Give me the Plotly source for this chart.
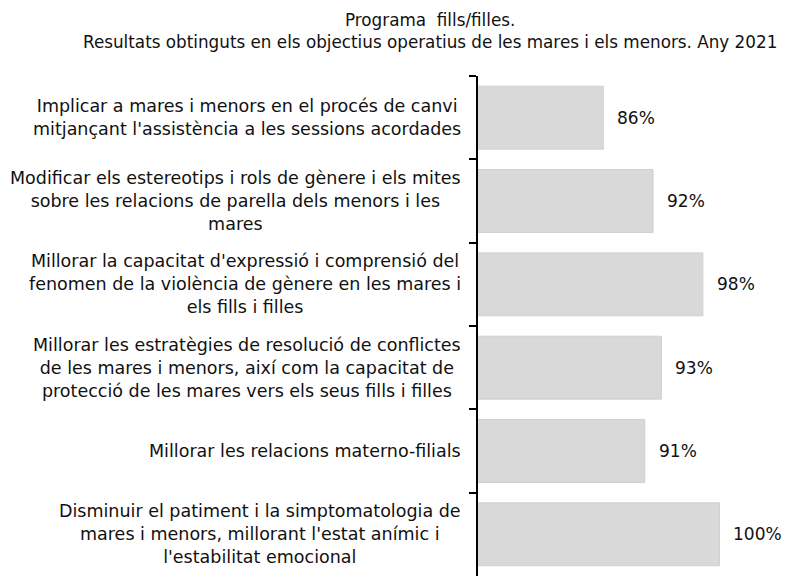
import plotly.graph_objects as go

title_lines = [
    "Programa  fills/filles.",
    "Resultats obtinguts en els objectius operatius de les mares i els menors. Any 2021",
]

objectives = [
    "Implicar a mares i menors en el procés de canvi<br>mitjançant l'assistència a les sessions acordades",
    "Modificar els estereotips i rols de gènere i els mites<br>sobre les relacions de parella dels menors i les<br>mares",
    "Millorar la capacitat d'expressió i comprensió del<br>fenomen de la violència de gènere en les mares i<br>els fills i filles",
    "Millorar les estratègies de resolució de conflictes<br>de les mares i menors, així com la capacitat de<br>protecció de les mares vers els seus fills i filles",
    "Millorar les relacions materno-filials",
    "Disminuir el patiment i la simptomatologia de<br>mares i menors, millorant l'estat anímic i<br>l'estabilitat emocional",
]

percent = [86, 92, 98, 93, 91, 100]

FONT = "DejaVu Sans, Arial, sans-serif"
TXT = "#111111"

fig = go.Figure()
fig.add_trace(go.Bar(
    x=percent,
    y=objectives,
    orientation="h",
    marker=dict(color="#d9d9d9", line=dict(color="#cfcfcf", width=1)),
    hoverinfo="x+y",
    showlegend=False,
))

annotations = []
for lab in objectives:
    annotations.append(dict(
        xref="paper", x=0, xanchor="right", xshift=-15,
        yref="y", y=lab, yanchor="middle",
        text=lab, align="center", showarrow=False,
        font=dict(family=FONT, size=17.5, color=TXT),
    ))
for lab, v in zip(objectives, percent):
    annotations.append(dict(
        xref="x", x=v, xanchor="left", xshift=12,
        yref="y", y=lab, yanchor="middle",
        text=f"{v}%", showarrow=False,
        font=dict(family=FONT, size=17, color=TXT),
    ))
annotations.append(dict(
    xref="paper", x=0, xshift=-48, xanchor="center",
    yref="paper", y=1, yshift=45, yanchor="middle",
    text="<br>".join(title_lines), align="center", showarrow=False,
    font=dict(family=FONT, size=16.8, color=TXT),
))

# page body has an 8px margin; figure sized to fit the 792x577 window
fig.update_layout(
    width=784, height=569,
    margin=dict(l=470, r=12, t=68, b=1),
    paper_bgcolor="white", plot_bgcolor="white",
    bargap=0.245,
    xaxis=dict(visible=False, range=[70.9, 107.3]),
    yaxis=dict(
        type="category", categoryorder="array", categoryarray=objectives,
        autorange="reversed",
        showline=True, linecolor="black", linewidth=2,
        ticks="outside", ticklen=7, tickwidth=2, tickcolor="black",
        tickson="boundaries", showticklabels=False, showgrid=False,
        zeroline=False,
    ),
    annotations=annotations,
)

fig.write_html("out.html")
